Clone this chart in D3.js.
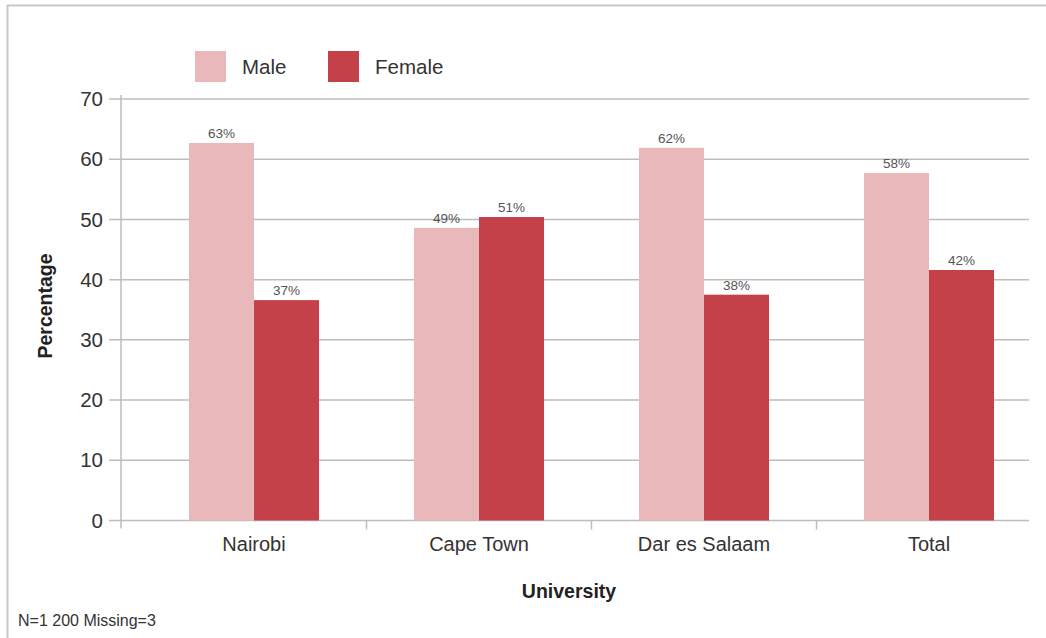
<!DOCTYPE html>
<html>
<head>
<meta charset="utf-8">
<script src="https://cdn.jsdelivr.net/npm/d3@7"></script>
<style>
  html, body { margin: 0; padding: 0; background: #fff; }
  svg { display: block; font-family: "Liberation Sans", Arial, sans-serif; }
</style>
</head>
<body>
<svg id="chart" width="1046" height="638"></svg>
<script>
const categories = ["Nairobi", "Cape Town", "Dar es Salaam", "Total"];
const seriesNames = ["Male", "Female"];
const maleValues = [62.7, 48.6, 61.9, 57.7];
const femaleValues = [36.6, 50.4, 37.5, 41.6];
const maleLabels = ["63%", "49%", "62%", "58%"];
const femaleLabels = ["37%", "51%", "38%", "42%"];
const yTicks = [0, 10, 20, 30, 40, 50, 60, 70];
const colors = ["#e8b8ba", "#c4414a"];

const svg = d3.select("#chart");
const W = 1046, H = 638;

// frame
svg.append("line").attr("x1", 7).attr("x2", W).attr("y1", 5.5).attr("y2", 5.5)
  .attr("stroke", "#c8c8c8").attr("stroke-width", 2);
svg.append("line").attr("x1", 7.5).attr("x2", 7.5).attr("y1", 5).attr("y2", H)
  .attr("stroke", "#c8c8c8").attr("stroke-width", 2);

const y = d3.scaleLinear().domain([0, 70]).range([520.5, 99]);
const x0 = d3.scaleBand().domain(categories).range([141.5, 1041.5]).paddingInner(0).paddingOuter(0);
const x1 = d3.scaleBand().domain(seriesNames).range([0, x0.bandwidth()]).paddingInner(0).paddingOuter(0.73);

const axisX = 121, gridRight = 1029;

// gridlines and y ticks
const gy = svg.append("g");
yTicks.forEach(t => {
  gy.append("line").attr("x1", 109).attr("x2", gridRight)
    .attr("y1", y(t)).attr("y2", y(t))
    .attr("stroke", "#bdbdbd").attr("stroke-width", 1.5);
  gy.append("text").attr("x", 103).attr("y", y(t)).attr("dy", "0.35em")
    .attr("text-anchor", "end").attr("font-size", 20.5).attr("fill", "#333")
    .text(t);
});

// y axis line
svg.append("line").attr("x1", axisX).attr("x2", axisX).attr("y1", y(70) - 4).attr("y2", y(0) + 8)
  .attr("stroke", "#bdbdbd").attr("stroke-width", 1.5);

// x ticks at band boundaries
categories.slice(1).forEach(c => {
  const xx = x0(c);
  svg.append("line").attr("x1", xx).attr("x2", xx).attr("y1", y(0)).attr("y2", y(0) + 9)
    .attr("stroke", "#bdbdbd").attr("stroke-width", 1.5);
});

// bars
const data = categories.map((c, i) => ({
  cat: c,
  vals: [
    { key: "Male", v: maleValues[i], label: maleLabels[i] },
    { key: "Female", v: femaleValues[i], label: femaleLabels[i] }
  ]
}));

const groups = svg.append("g").selectAll("g").data(data).join("g")
  .attr("transform", d => `translate(${x0(d.cat)},0)`);

groups.selectAll("rect").data(d => d.vals).join("rect")
  .attr("x", d => x1(d.key))
  .attr("y", d => y(d.v))
  .attr("width", x1.bandwidth())
  .attr("height", d => y(0) - y(d.v))
  .attr("fill", (d, i) => colors[i]);

groups.selectAll("text.val").data(d => d.vals).join("text")
  .attr("class", "val")
  .attr("x", d => x1(d.key) + x1.bandwidth() / 2)
  .attr("y", d => y(d.v) - 5)
  .attr("text-anchor", "middle")
  .attr("font-size", 13.5)
  .attr("fill", "#555")
  .text(d => d.label);

// category labels
categories.forEach(c => {
  svg.append("text").attr("x", x0(c) + x0.bandwidth() / 2).attr("y", 551)
    .attr("text-anchor", "middle").attr("font-size", 20).attr("fill", "#333")
    .text(c);
});

// axis titles
svg.append("text").attr("x", 569).attr("y", 598).attr("text-anchor", "middle")
  .attr("font-size", 19.5).attr("font-weight", "bold").attr("fill", "#222")
  .text("University");
svg.append("text").attr("transform", "translate(52,306) rotate(-90)")
  .attr("text-anchor", "middle").attr("font-size", 19.5).attr("font-weight", "bold").attr("fill", "#222")
  .text("Percentage");

// legend
const legend = svg.append("g");
const legendX = [195, 328];
seriesNames.forEach((s, i) => {
  legend.append("rect").attr("x", legendX[i]).attr("y", 51).attr("width", 31).attr("height", 31)
    .attr("fill", colors[i]);
  legend.append("text").attr("x", legendX[i] + 47).attr("y", 74)
    .attr("font-size", 20.5).attr("fill", "#333").text(s);
});

// footnote
svg.append("text").attr("x", 18).attr("y", 626).attr("font-size", 16).attr("fill", "#333")
  .text("N=1 200 Missing=3");
</script>
</body>
</html>
